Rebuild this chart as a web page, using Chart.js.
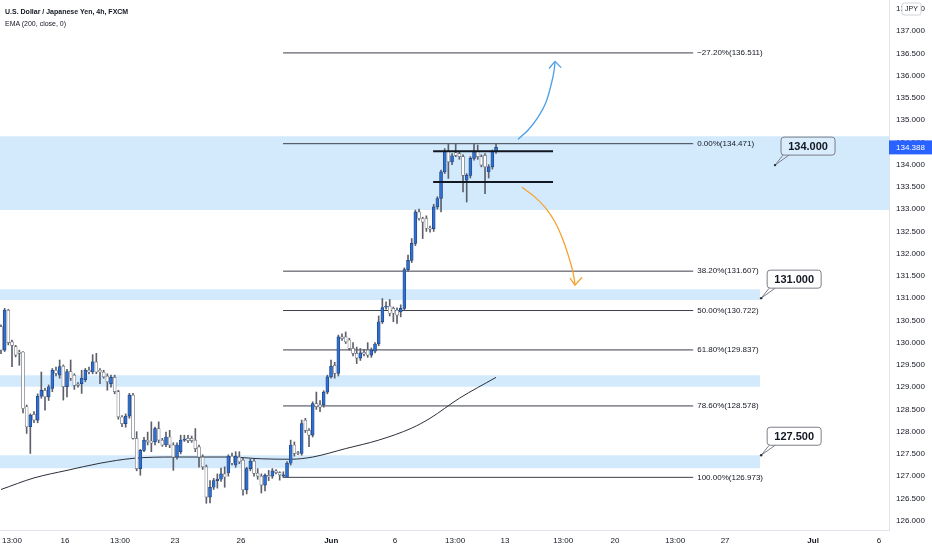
<!DOCTYPE html>
<html>
<head>
<meta charset="utf-8">
<title>USDJPY 4h</title>
<script src="https://cdn.jsdelivr.net/npm/chart.js@4.4.1/dist/chart.umd.min.js"></script>
<style>
  html, body { margin: 0; padding: 0; background: #fff; }
  #wrap { position: relative; width: 932px; height: 550px; }
  #title { position: absolute; left: 5px; top: 8px; font: bold 7px "Liberation Sans", Arial, sans-serif; color: #131722; }
  #sub { position: absolute; left: 5px; top: 20px; font: 7px "Liberation Sans", Arial, sans-serif; color: #131722; }
</style>
</head>
<body>
<div id="wrap">
  <canvas id="chart"></canvas>
  <div id="title">U.S. Dollar / Japanese Yen, 4h, FXCM</div>
  <div id="sub">EMA (200, close, 0)</div>
</div>
<script>
// 4h candles (oldest first)
const opens = [130.36,129.83,130.73,130.02,129.91,129.79,129.79,128.56,128.11,128.39,128.26,128.80,128.93,128.78,128.97,129.38,129.27,129.47,129.01,129.35,
  129.27,129.07,129.08,129.17,129.38,129.34,129.57,129.38,129.34,129.25,129.08,129.22,128.90,128.33,128.18,128.35,128.82,127.85,127.17,127.58,
  127.81,127.79,127.77,128.07,127.81,127.70,127.88,127.70,127.43,127.55,127.81,127.85,127.85,127.81,127.66,127.43,127.21,126.53,126.75,126.90,
  126.93,127.05,127.07,127.45,127.25,127.43,127.36,126.69,127.17,127.34,127.07,127.00,126.80,127.02,127.00,127.12,127.08,127.00,126.98,127.29,
  127.70,127.53,127.51,128.26,128.03,127.92,128.63,128.60,128.60,128.89,129.23,129.49,129.31,130.13,130.13,130.06,129.87,129.76,129.65,129.78,
  129.83,129.72,129.81,129.97,130.47,130.80,130.82,130.77,130.73,130.69,130.77,131.64,131.85,132.23,132.94,132.79,132.79,132.57,132.56,133.05,
  133.24,133.84,134.29,134.06,134.27,134.25,134.18,133.65,133.76,134.14,134.29,134.18,134.21,133.84,133.95,134.29];
const highs = [130.40,130.77,130.75,130.06,129.94,129.83,129.80,128.60,128.40,128.45,128.85,129.34,128.98,129.05,129.42,129.45,129.61,129.50,129.40,129.61,
  129.30,129.10,129.38,129.42,129.45,129.73,129.76,129.42,129.38,129.30,129.27,129.27,128.93,128.36,128.40,128.86,128.86,128.00,127.60,127.87,
  127.99,128.22,128.10,128.22,127.85,127.99,128.03,127.75,127.75,127.92,127.92,127.92,127.90,128.07,127.70,127.48,127.25,126.90,126.95,127.05,
  127.18,127.21,127.48,127.52,127.55,127.55,127.40,127.20,127.38,127.38,127.17,127.05,127.05,127.13,127.17,127.15,127.10,127.10,127.33,127.81,
  127.77,127.56,128.26,128.30,128.07,128.67,128.89,128.70,128.92,129.27,129.61,129.56,130.17,130.20,130.24,130.10,130.00,129.90,129.87,129.85,
  130.00,129.88,130.00,130.60,130.99,130.92,130.97,130.80,130.78,130.85,131.68,131.97,132.34,132.98,133.00,132.82,132.85,132.62,133.11,133.28,
  133.88,134.36,134.47,134.25,134.47,134.30,134.22,133.80,134.18,134.47,134.44,134.22,134.25,134.00,134.33,134.46];
const lows = [129.75,129.80,129.95,129.46,129.68,129.49,128.42,127.96,127.51,128.20,128.20,128.75,128.48,128.70,128.90,129.25,129.20,128.71,128.78,129.15,
  128.95,129.00,128.86,129.12,129.30,129.30,129.30,129.08,129.20,128.93,129.00,128.85,128.28,128.11,128.10,128.30,127.83,127.12,127.02,127.55,
  127.70,127.55,127.70,127.75,127.67,127.66,127.64,127.13,127.38,127.50,127.78,127.75,127.76,127.55,127.20,127.15,126.39,126.40,126.70,126.73,
  126.88,126.75,127.00,127.25,127.20,127.28,126.57,126.60,127.12,127.00,126.93,126.62,126.67,126.90,126.95,127.05,126.91,126.97,126.97,127.25,
  127.45,127.48,127.47,127.98,127.66,127.88,128.50,128.45,128.55,128.85,129.20,129.20,129.25,130.05,129.98,129.83,129.70,129.53,129.60,129.70,
  129.67,129.67,129.77,129.93,130.43,130.75,130.60,130.47,130.43,130.58,130.73,131.60,131.80,132.18,132.75,132.34,132.50,132.48,132.50,133.00,
  132.94,133.80,133.69,134.00,134.18,134.12,133.39,133.16,133.70,134.10,134.12,133.95,133.35,133.70,133.90,134.25];
const closes = [129.83,130.73,130.00,129.94,129.72,129.76,128.52,128.11,128.37,128.26,128.80,128.93,128.78,129.01,129.38,129.31,129.46,129.01,129.35,129.20,
  129.04,129.04,129.20,129.38,129.34,129.57,129.34,129.34,129.23,129.12,129.22,128.90,128.33,128.18,128.35,128.82,127.85,127.17,127.58,127.81,
  127.77,127.74,128.07,127.81,127.70,127.88,127.70,127.43,127.70,127.81,127.83,127.80,127.80,127.62,127.43,127.21,126.53,126.75,126.90,126.93,
  127.05,126.98,127.45,127.29,127.45,127.32,126.69,127.17,127.34,127.06,127.00,126.80,127.02,126.98,127.12,127.08,127.03,127.03,127.29,127.70,
  127.51,127.51,128.18,128.03,127.92,128.63,128.56,128.55,128.89,129.23,129.47,129.31,130.13,130.09,130.02,129.87,129.76,129.65,129.77,129.74,
  129.72,129.83,129.97,130.47,130.79,130.82,130.66,130.66,130.62,130.77,131.64,131.85,132.23,132.94,132.79,132.71,132.57,132.55,133.05,133.24,
  133.84,134.29,134.06,134.20,134.21,134.18,133.76,133.76,134.14,134.29,134.18,133.99,133.95,133.95,134.29,134.39];

// EMA(200) read at a few candle indices
const emaIdx  = [0, 9, 18, 27, 36, 47, 62, 71, 79, 85, 94, 103, 112, 117, 125, 135];
const emaVals = [126.70, 126.96, 127.13, 127.29, 127.40, 127.43, 127.43, 127.39, 127.38, 127.43, 127.62, 127.81, 128.08, 128.30, 128.75, 129.22];

// time axis in trading days (0 = May 16)
const xTickPos    = [-2.41, 0, 2.5, 5, 8, 12.1, 15, 17.73, 20, 22.64, 25, 27.73, 30, 34, 37];
const xTickLabels = ['13:00', '16', '13:00', '23', '26', 'Jun', '6', '13:00', '13', '13:00', '20', '13:00', '27', 'Jul', '6'];
const yTickVals = [126, 126.5, 127, 127.5, 128, 128.5, 129, 129.5, 130, 130.5, 131, 131.5, 132, 132.5, 133, 133.5,
  134, 134.5, 135, 135.5, 136, 136.5, 137, 137.5];

// fibonacci retracement
const fibLevels = [136.511, 134.471, 131.607, 130.722, 129.837, 128.578, 126.973];
const fibLabels = ['\u221227.20%(136.511)', '0.00%(134.471)', '38.20%(131.607)', '50.00%(130.722)',
  '61.80%(129.837)', '78.60%(128.578)', '100.00%(126.973)'];
const fibStart = 9.91, fibEnd = 28.55;

// support / resistance zones
const zoneTops    = [134.64, 131.20, 129.27, 127.47];
const zoneBottoms = [132.98, 130.96, 129.01, 127.18];
const zoneEnds    = [37.45, 31.59, 31.59, 31.59];

// consolidation range lines
const rangeLevels = [134.30, 133.61];
const rangeStart = 16.73, rangeEnd = 22.18;

// scenario arrows
const blueArrowX = [20.59, 21.05, 21.50, 21.86, 22.09, 22.23, 22.27];
const blueArrowY = [134.57, 134.78, 135.07, 135.40, 135.79, 136.12, 136.30];
const blueHeadX = [22.00, 22.27, 22.55];
const blueHeadY = [136.16, 136.32, 136.18];
const orangeArrowX = [20.77, 21.36, 21.82, 22.27, 22.64, 22.91, 23.09, 23.18];
const orangeArrowY = [133.49, 133.27, 133.04, 132.71, 132.30, 131.90, 131.58, 131.31];
const orangeHeadX = [22.95, 23.18, 23.50];
const orangeHeadY = [131.45, 131.29, 131.47];

// price callouts
const calloutX = [32.27, 31.64, 31.64];
const calloutY = [133.99, 131.00, 127.47];
const calloutText = ['134.000', '131.000', '127.500'];
const lastPrice = 134.388;

const X_MIN = -2.955, X_MAX = 37.45;
const Y_MIN = 125.79, Y_MAX = 137.70;
const X0 = -2.91;

const FONT = '"Liberation Sans", Arial, sans-serif';
Chart.defaults.font.family = FONT;

const candleX = opens.map((_, i) => X0 + i / 6);
const isUp = closes.map((c, i) => c >= opens[i]);

function pts(xs, ys) {
    return xs.map((x, i) => ({ x: x, y: ys[i] }));
}

function segment(y, a, b) {
    return [{ x: a, y: y }, { x: b, y: y }];
}

const datasets = [];

zoneTops.forEach((top, i) => {
    datasets.push({
        type: 'line',
        data: segment(top, X_MIN, zoneEnds[i]),
        borderWidth: 0,
        pointRadius: 0,
        backgroundColor: 'rgba(33,150,243,0.2)',
        fill: { value: zoneBottoms[i] },
        order: 30
    });
});

fibLevels.forEach(level => {
    datasets.push({
        type: 'line',
        data: segment(level, fibStart, fibEnd),
        borderColor: '#3c3f47',
        borderWidth: 1,
        pointRadius: 0,
        order: 20
    });
});

datasets.push({
    type: 'line',
    data: emaIdx.map((k, i) => ({ x: X0 + k / 6, y: emaVals[i] })),
    borderColor: '#2a2e39',
    borderWidth: 1,
    pointRadius: 0,
    cubicInterpolationMode: 'monotone',
    order: 15
});

datasets.push({
    type: 'bar',
    data: candleX.map((x, i) => ({ x: x, y: [lows[i], highs[i]] })),
    backgroundColor: '#5d606b',
    barThickness: 1,
    grouped: false,
    order: 5
});

datasets.push({
    type: 'bar',
    data: candleX.map((x, i) => ({ x: x, y: [opens[i], closes[i]] })),
    backgroundColor: isUp.map(u => u ? '#2f6fd0' : '#ffffff'),
    borderColor: isUp.map(u => u ? '#1e3f78' : '#6a6d78'),
    borderWidth: 0.7,
    borderSkipped: false,
    barThickness: 3,
    minBarLength: 1,
    grouped: false,
    order: 4
});

rangeLevels.forEach(level => {
    datasets.push({
        type: 'line',
        data: segment(level, rangeStart, rangeEnd),
        borderColor: '#131722',
        borderWidth: 2,
        pointRadius: 0,
        order: 3
    });
});

[[blueArrowX, blueArrowY, '#4a9fe8', true], [blueHeadX, blueHeadY, '#4a9fe8', false],
 [orangeArrowX, orangeArrowY, '#f5a231', true], [orangeHeadX, orangeHeadY, '#f5a231', false]].forEach(a => {
    datasets.push({
        type: 'line',
        data: pts(a[0], a[1]),
        borderColor: a[2],
        borderWidth: 1.3,
        pointRadius: 0,
        cubicInterpolationMode: a[3] ? 'monotone' : 'default',
        tension: 0,
        order: 2
    });
});

const overlay = {
    id: 'overlay',
    afterDatasetsDraw(chart) {
        const ctx = chart.ctx;
        const xs = chart.scales.x, ys = chart.scales.y;
        ctx.save();
        // fib labels
        ctx.font = '8px ' + FONT;
        ctx.fillStyle = '#131722';
        ctx.textBaseline = 'middle';
        ctx.textAlign = 'left';
        const lx = xs.getPixelForValue(fibEnd) + 4;
        fibLevels.forEach((l, i) => ctx.fillText(fibLabels[i], lx, ys.getPixelForValue(l)));

        // callouts
        calloutText.forEach((t, i) => {
            const ax = xs.getPixelForValue(calloutX[i]);
            const ay = ys.getPixelForValue(calloutY[i]);
            const bx = ax + 6, by = ay - 28, w = 54, h = 18;
            ctx.strokeStyle = '#7b7e87';
            ctx.lineWidth = 1;
            ctx.beginPath();
            ctx.moveTo(ax, ay);
            ctx.lineTo(bx + 2, by + h);
            ctx.moveTo(ax, ay);
            ctx.lineTo(bx + 8, by + h);
            ctx.stroke();
            ctx.beginPath();
            ctx.roundRect(bx, by, w, h, 3);
            ctx.fillStyle = 'rgba(255,255,255,0.15)';
            ctx.fill();
            ctx.stroke();
            ctx.fillStyle = '#2a2e39';
            ctx.beginPath();
            ctx.arc(ax, ay, 1.2, 0, Math.PI * 2);
            ctx.fill();
            ctx.font = 'bold 11px ' + FONT;
            ctx.fillStyle = '#131722';
            ctx.textAlign = 'center';
            ctx.fillText(t, bx + w / 2, by + h / 2 + 0.5);
        });
        ctx.restore();
    },
    afterDraw(chart) {
        const ctx = chart.ctx;
        const ys = chart.scales.y;
        const area = chart.chartArea;
        ctx.save();
        // last price tag
        const py = ys.getPixelForValue(lastPrice);
        ctx.fillStyle = '#2962ff';
        ctx.fillRect(area.right, py - 7, 43, 14);
        ctx.fillStyle = '#ffffff';
        ctx.font = '8px ' + FONT;
        ctx.textBaseline = 'middle';
        ctx.textAlign = 'left';
        ctx.fillText(lastPrice.toFixed(3), area.right + 7, py + 0.5);
        // currency badge
        ctx.beginPath();
        ctx.roundRect(902, 3, 19, 12, 2);
        ctx.fillStyle = '#ffffff';
        ctx.fill();
        ctx.strokeStyle = '#d1d4dc';
        ctx.stroke();
        ctx.fillStyle = '#131722';
        ctx.font = '7px ' + FONT;
        ctx.textAlign = 'center';
        ctx.fillText('JPY', 911.5, 9.5);
        ctx.restore();
    }
};

new Chart(document.getElementById('chart'), {
    type: 'bar',
    data: { datasets: datasets },
    options: {
        responsive: true,
        maintainAspectRatio: false,
        animation: false,
        layout: { padding: 0 },
        plugins: { legend: { display: false }, tooltip: { enabled: false } },
        scales: {
            x: {
                type: 'linear',
                min: X_MIN,
                max: X_MAX,
                offset: false,
                grid: { display: false, drawTicks: false },
                border: { display: true, color: '#e0e3eb' },
                afterBuildTicks: axis => { axis.ticks = xTickPos.map(v => ({ value: v })); },
                afterFit: axis => {
                    axis.height = 20;
                    axis.paddingLeft = 0;
                    axis.paddingRight = 0;
                },
                ticks: {
                    autoSkip: false,
                    maxRotation: 0,
                    padding: 6,
                    color: '#131722',
                    font: ctx => ({ size: 8, weight: (xTickLabels[ctx.index] === 'Jun' || xTickLabels[ctx.index] === 'Jul') ? 'bold' : 'normal' }),
                    callback: (v, i) => xTickLabels[i]
                }
            },
            y: {
                type: 'linear',
                position: 'right',
                min: Y_MIN,
                max: Y_MAX,
                grid: { display: false, drawTicks: false },
                border: { display: true, color: '#e0e3eb' },
                afterBuildTicks: axis => { axis.ticks = yTickVals.map(v => ({ value: v })); },
                afterFit: axis => {
                    axis.width = 43;
                    axis.paddingTop = 0;
                    axis.paddingBottom = 0;
                },
                ticks: {
                    padding: 7,
                    color: '#131722',
                    font: { size: 8 },
                    callback: v => Number(v).toFixed(3)
                }
            }
        }
    },
    plugins: [overlay]
});
</script>
</body>
</html>
